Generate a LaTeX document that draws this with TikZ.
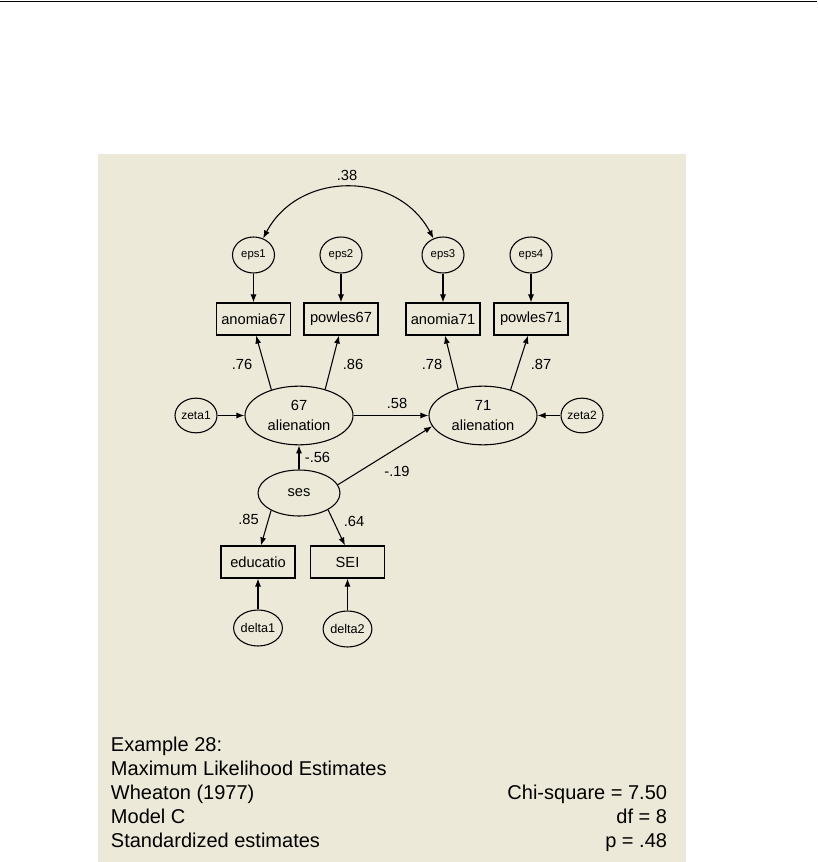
\documentclass[tikz,border=0pt]{standalone}
\usepackage{fontspec}
\setmainfont{Liberation Sans}
\usetikzlibrary{arrows.meta,shapes.geometric}

\definecolor{panel}{HTML}{ECE9D8}

\begin{document}
\begin{tikzpicture}[x=0.75pt, y=-0.75pt, line width=0.8pt,
  >={Latex[length=6pt,width=4.5pt]},
  obs/.style={draw, rectangle, minimum width=55.5pt, minimum height=24pt,
    inner sep=0pt, font=\fontsize{11}{13}\selectfont},
  lat/.style={draw, ellipse, minimum width=81pt, minimum height=44pt,
    inner sep=0pt, align=center, font=\fontsize{11}{15}\selectfont},
  err/.style={draw, ellipse, minimum width=31.5pt, minimum height=27pt,
    inner sep=0pt, font=\fontsize{8.5}{10}\selectfont},
  est/.style={font=\fontsize{11}{13}\selectfont},
  note/.style={font=\fontsize{15}{18}\selectfont}]

\useasboundingbox (0,0) rectangle (817,862);
\fill[panel] (98,154) rectangle (686,862);
\draw[line width=1.1pt] (0,1.5) -- (817,1.5);

\node[err] (eps1) at (253.5,255) {eps1};
\node[err] (eps2) at (341,255) {eps2};
\node[err] (eps3) at (443,255) {eps3};
\node[err] (eps4) at (531,255) {eps4};

\node[obs] (anomia67) at (253.5,319) {anomia67};
\node[obs] (powles67) at (341,319) {powles67};
\node[obs] (anomia71) at (443,319) {anomia71};
\node[obs] (powles71) at (531,319) {powles71};

\node[lat] (alien67) at (299,415.5) {67\\alienation};
\node[lat] (alien71) at (483,415.5) {71\\alienation};
\node[err, minimum height=26pt, font=\fontsize{9}{10}\selectfont] (zeta1) at (196,415.5) {zeta1};
\node[err, minimum height=26pt, font=\fontsize{9}{10}\selectfont] (zeta2) at (582,415.5) {zeta2};

\node[lat, minimum width=61.5pt, minimum height=34.5pt] (ses) at (299,493) {ses};

\node[obs] (educatio) at (258,562) {educatio};
\node[obs] (SEI) at (347.5,562) {SEI};
\node[err, font=\fontsize{9.5}{10}\selectfont] (delta1) at (258,628) {delta1};
\node[err, font=\fontsize{9.5}{10}\selectfont] (delta2) at (347.5,629) {delta2};

\draw[<->] (eps1.60) .. controls +(36,-68) and +(-36,-68) .. (eps3.120);

\draw[->] (eps1) -- (anomia67);
\draw[->] (eps2) -- (powles67);
\draw[->] (eps3) -- (anomia71);
\draw[->] (eps4) -- (powles71);

\draw[->] (alien67.137) -- ([xshift=1.9pt]anomia67.south);
\draw[->] (alien67.45) -- ([xshift=-1.5pt]powles67.south);
\draw[->] (alien71.133) -- ([xshift=1.5pt]anomia71.south);
\draw[->] (alien71.43) -- ([xshift=-2.2pt]powles71.south);

\draw[->] (zeta1) -- (alien67);
\draw[->] (zeta2) -- (alien71);
\draw[->] (alien67) -- (alien71);
\draw[->] (ses) -- (alien67);
\draw[->] (ses.12) -- (alien71.192);
\draw[->] (ses.212) -- ([xshift=2.2pt]educatio.north);
\draw[->] (ses.330) -- ([xshift=-1.9pt]SEI.north);
\draw[->] (delta1) -- (educatio);
\draw[->] (delta2) -- (SEI);

\node[est] (r38) at (347,175) {.38};
\node[est] (r76) at (242,364) {.76};
\node[est] (r86) at (353,364) {.86};
\node[est] (r78) at (432,364) {.78};
\node[est] (r87) at (541,364) {.87};
\node[est] (r58) at (397,403) {.58};
\node[est] (r56) at (317.5,457) {-.56};
\node[est] (r19) at (397,471) {-.19};
\node[est] (r85) at (248.5,519) {.85};
\node[est] (r64) at (354,521) {.64};

\node[note, anchor=base west] (title) at (106,751) {Example 28:};
\node[note, anchor=base west] (method) at (106,775) {Maximum Likelihood Estimates};
\node[note, anchor=base west] (source) at (106,799) {Wheaton (1977)};
\node[note, anchor=base west] (model) at (106,823) {Model C};
\node[note, anchor=base west] (kind) at (106,847) {Standardized estimates};
\node[note, anchor=base east] (chisq) at (672,799) {Chi-square = 7.50};
\node[note, anchor=base east] (df) at (672,823) {df = 8};
\node[note, anchor=base east] (pval) at (672,847) {p = .48};

\end{tikzpicture}
\end{document}
